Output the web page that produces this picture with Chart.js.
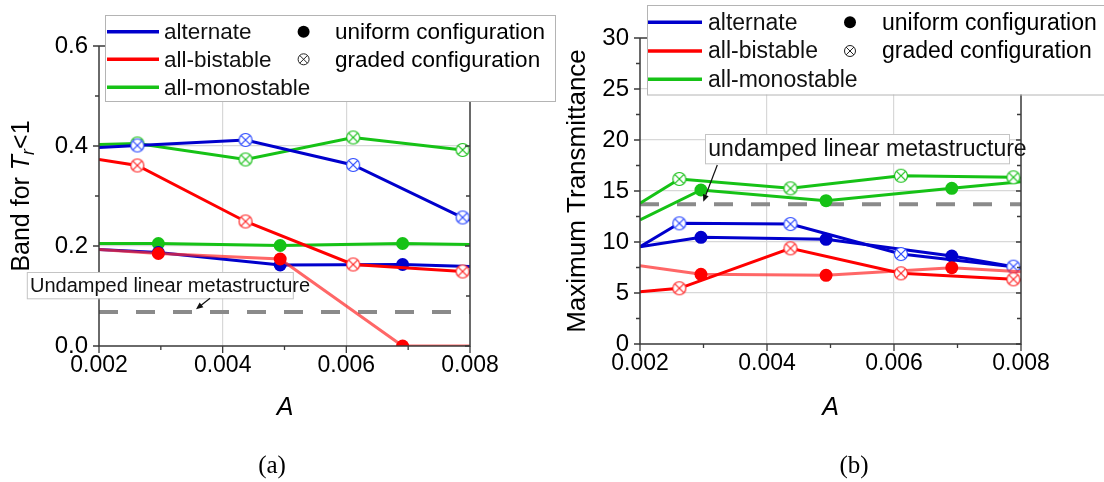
<!DOCTYPE html>
<html>
<head>
<meta charset="utf-8">
<script src="https://cdn.jsdelivr.net/npm/chart.js@4.4.1/dist/chart.umd.min.js"></script>
<style>
  html, body { margin: 0; padding: 0; background: #fff; }
  #wrap { position: relative; width: 1104px; height: 482px; overflow: hidden; background: #fff; }
  #wrap canvas { position: absolute; top: 0; }
  #cvA { left: 0; }
  #cvB { left: 560px; }
  .cap { position: absolute; font-family: 'Liberation Serif', 'Times New Roman', serif; font-size: 25px;
         line-height: normal; color: #000; transform: translateX(-50%); white-space: nowrap; }
</style>
</head>
<body>
<div id="wrap">
  <canvas id="cvA" width="560" height="482"></canvas>
  <canvas id="cvB" width="544" height="482"></canvas>
  <div class="cap" style="left:272px; top:451px;">(a)</div>
  <div class="cap" style="left:854px; top:451px;">(b)</div>
</div>
<script>
// ---- amplitudes A (first and last entries are the plot edges) ----
const ampGraded  = [0.002, 0.00262, 0.00437, 0.00611, 0.00788, 0.008];
const ampUniform = [0.002, 0.00296, 0.00493, 0.00691, 0.008];
const ampTicks   = [0.002, 0.004, 0.006, 0.008];

// ---- series and configuration names ----
const seriesNames = ['alternate', 'all-bistable', 'all-monostable'];
const configNames = ['uniform configuration', 'graded configuration'];

// ---- (a) band for Tr < 1 ----
const bandAltGraded    = [0.397, 0.401, 0.412, 0.362, 0.257, 0.252];
const bandBiGraded     = [0.373, 0.361, 0.249, 0.163, 0.149, 0.148];
const bandMonoGraded   = [0.403, 0.405, 0.373, 0.417, 0.392, 0.391];
const bandAltUniform   = [0.193, 0.187, 0.162, 0.163, 0.159];
const bandBiUniform    = [0.193, 0.185, 0.174, 0.0, 0.0];
const bandMonoUniform  = [0.205, 0.205, 0.201, 0.205, 0.203];
const bandUndamped     = 0.068;
const bandTicks        = [0, 0.2, 0.4, 0.6];

// ---- (b) maximum transmittance ----
const tmAltGraded   = [9.54, 11.83, 11.76, 8.82, 7.58, 7.45];
const tmBiGraded    = [5.13, 5.46, 9.38, 6.93, 6.34, 6.27];
const tmMonoGraded  = [13.8, 16.18, 15.26, 16.5, 16.34, 16.24];
const tmAltUniform  = [9.54, 10.46, 10.26, 8.63, 7.45];
const tmBiUniform   = [7.68, 6.83, 6.73, 7.48, 7.09];
const tmMonoUniform = [12.16, 15.1, 14.05, 15.26, 15.9];
const tmUndamped    = 13.7;
const tmTicks       = [0, 5, 10, 15, 20, 25, 30];

// ---- styling ----
const SANS = "'Liberation Sans', Arial, sans-serif";
const BLUE = '#0000cc', BLUE_MK = '#2a48ff';
const RED = '#ff0000', RED_LIGHT = 'rgba(255,45,45,0.72)', RED_MK = '#ff2424';
const GREEN = '#16c216', GREEN_MK = '#18c018';
const AXIS = '#3a3a3a', GRID = '#d8d8d8', DASH = '#8a8a8a';

function crossMark(color, r) {
  const c = document.createElement('canvas');
  const s = 16;
  c.width = c.height = s;
  const g = c.getContext('2d');
  const m = s / 2;
  g.fillStyle = '#fff';
  g.beginPath(); g.arc(m, m, r, 0, Math.PI * 2); g.fill();
  g.strokeStyle = color; g.lineWidth = 1.2; g.stroke();
  const d = r * 0.72;
  g.beginPath();
  g.moveTo(m - d, m - d); g.lineTo(m + d, m + d);
  g.moveTo(m + d, m - d); g.lineTo(m - d, m + d);
  g.stroke();
  return c;
}

const edgeRadius = (n) => Array.from({length: n}, (_, i) => (i === 0 || i === n - 1) ? 0 : 6.5);
const toPts = (xs, ys) => xs.map((x, i) => ({x, y: ys[i]}));

function gradedSet(label, ys, color, mk, order) {
  return { label, data: toPts(ampGraded, ys), borderColor: color, borderWidth: 3,
    pointStyle: crossMark(mk, 6.5), pointRadius: edgeRadius(ampGraded.length),
    pointHoverRadius: 0, order };
}
function uniformSet(label, ys, color, dot, order) {
  return { label, data: toPts(ampUniform, ys), borderColor: color, borderWidth: 3,
    pointStyle: 'circle', pointRadius: edgeRadius(ampUniform.length), pointBorderWidth: 0,
    pointBackgroundColor: dot, pointHoverRadius: 0, order };
}
function refSet(v) {
  return { label: 'undamped', data: [{x: 0.002, y: v}, {x: 0.008, y: v}], borderColor: DASH,
    borderWidth: 4, borderDash: [19, 18], pointRadius: 0, order: 10 };
}

// draws frame, tick marks, legend, note and axis titles
function decor(P) {
  return {
    id: 'decor',
    afterDatasetsDraw(chart) {
      const ctx = chart.ctx, a = chart.chartArea;
      const xs = chart.scales.x, ys = chart.scales.y;
      ctx.save();
      ctx.strokeStyle = AXIS; ctx.lineWidth = 1.5;
      ctx.beginPath();
      ctx.moveTo(a.left, a.top); ctx.lineTo(a.left, a.bottom); ctx.lineTo(a.right, a.bottom);
      ctx.lineTo(a.right, a.top); ctx.lineTo(a.left, a.top);
      ctx.stroke();
      ctx.lineWidth = 1.3;
      ctx.beginPath();
      const yt = P.yTicks;
      for (let i = 0; i < yt.length; i++) {
        const y = ys.getPixelForValue(yt[i]);
        ctx.moveTo(a.left - 6, y); ctx.lineTo(a.left, y);
        ctx.moveTo(a.right - 5, y); ctx.lineTo(a.right, y);
        if (i < yt.length - 1) {
          const ym = ys.getPixelForValue((yt[i] + yt[i + 1]) / 2);
          ctx.moveTo(a.left - 4, ym); ctx.lineTo(a.left, ym);
          ctx.moveTo(a.right - 4, ym); ctx.lineTo(a.right, ym);
        }
      }
      for (let i = 0; i < ampTicks.length; i++) {
        const x = xs.getPixelForValue(ampTicks[i]);
        ctx.moveTo(x, a.bottom); ctx.lineTo(x, a.bottom + 7);
        if (i < ampTicks.length - 1) {
          const xm = xs.getPixelForValue((ampTicks[i] + ampTicks[i + 1]) / 2);
          ctx.moveTo(xm, a.bottom); ctx.lineTo(xm, a.bottom + 4);
        }
      }
      ctx.stroke();
      ctx.restore();
    },
    afterDraw(chart) {
      const ctx = chart.ctx;
      drawLegend(ctx, P.legend);
      drawNote(ctx, P.note);
      ctx.save();
      ctx.fillStyle = '#000';
      ctx.textAlign = 'center'; ctx.textBaseline = 'alphabetic';
      ctx.font = 'italic 25px ' + SANS;
      ctx.fillText('A', P.xTitle.x, P.xTitle.y);
      ctx.restore();
      drawYTitle(ctx, P.yTitle);
    }
  };
}

function drawLegend(ctx, L) {
  const colors = [BLUE, RED, GREEN];
  ctx.save();
  ctx.fillStyle = '#fff';
  ctx.fillRect(L.x, L.y, L.w, L.h);
  ctx.strokeStyle = '#b4b4b4'; ctx.lineWidth = 1;
  ctx.strokeRect(L.x + 0.5, L.y + 0.5, L.w, L.h);
  ctx.font = L.font + 'px ' + SANS;
  ctx.textBaseline = 'middle'; ctx.textAlign = 'left';
  seriesNames.forEach((name, i) => {
    const y = L.y + L.rows[i];
    ctx.strokeStyle = colors[i]; ctx.lineWidth = 3.5;
    ctx.beginPath(); ctx.moveTo(L.x + L.line[0], y); ctx.lineTo(L.x + L.line[1], y); ctx.stroke();
    ctx.fillStyle = '#111';
    ctx.fillText(name, L.x + L.text, y + 1);
  });
  // configuration keys
  const mx = L.x + L.mark;
  let y = L.y + L.rows[0];
  ctx.fillStyle = '#000';
  ctx.beginPath(); ctx.arc(mx, y, 6, 0, Math.PI * 2); ctx.fill();
  ctx.fillText(configNames[0], L.x + L.text2, y + 1);
  y = L.y + L.rows[1];
  ctx.strokeStyle = '#222'; ctx.lineWidth = 1;
  ctx.beginPath(); ctx.arc(mx, y, 5.5, 0, Math.PI * 2); ctx.stroke();
  const d = 5.5 * 0.72;
  ctx.beginPath();
  ctx.moveTo(mx - d, y - d); ctx.lineTo(mx + d, y + d);
  ctx.moveTo(mx + d, y - d); ctx.lineTo(mx - d, y + d);
  ctx.stroke();
  ctx.fillText(configNames[1], L.x + L.text2, y + 1);
  ctx.restore();
}

function drawNote(ctx, N) {
  ctx.save();
  ctx.fillStyle = '#fff';
  ctx.fillRect(N.x, N.y, N.w, N.h);
  ctx.strokeStyle = '#c4c4c4'; ctx.lineWidth = 1;
  ctx.strokeRect(N.x + 0.5, N.y + 0.5, N.w, N.h);
  ctx.fillStyle = '#111';
  ctx.font = N.font + 'px ' + SANS;
  ctx.textBaseline = 'middle'; ctx.textAlign = 'left';
  ctx.fillText(N.text, N.tx, N.y + N.h / 2 + 1);
  // arrow
  const [x1, y1, x2, y2] = N.arrow;
  const ang = Math.atan2(y2 - y1, x2 - x1);
  ctx.strokeStyle = '#111'; ctx.lineWidth = 1.2;
  ctx.beginPath(); ctx.moveTo(x1, y1); ctx.lineTo(x2 - 5 * Math.cos(ang), y2 - 5 * Math.sin(ang)); ctx.stroke();
  ctx.fillStyle = '#111';
  ctx.beginPath();
  ctx.moveTo(x2, y2);
  ctx.lineTo(x2 - 7 * Math.cos(ang) + 3 * Math.sin(ang), y2 - 7 * Math.sin(ang) - 3 * Math.cos(ang));
  ctx.lineTo(x2 - 7 * Math.cos(ang) - 3 * Math.sin(ang), y2 - 7 * Math.sin(ang) + 3 * Math.cos(ang));
  ctx.closePath(); ctx.fill();
  ctx.restore();
}

function drawYTitle(ctx, T) {
  ctx.save();
  ctx.translate(T.x, T.y);
  ctx.rotate(-Math.PI / 2);
  ctx.fillStyle = '#000';
  ctx.textBaseline = 'alphabetic'; ctx.textAlign = 'left';
  const fontOf = (p) => (p.italic ? 'italic ' : '') + (p.sub ? Math.round(T.font * 0.7) : T.font) + 'px ' + SANS;
  let total = 0;
  T.parts.forEach(p => { ctx.font = fontOf(p); total += ctx.measureText(p.t).width; });
  let x = -total / 2;
  T.parts.forEach(p => {
    ctx.font = fontOf(p);
    ctx.fillText(p.t, x, p.sub ? T.font * 0.22 : 0);
    x += ctx.measureText(p.t).width;
  });
  ctx.restore();
}

function makeChart(id, P, datasets) {
  const fixedTicks = (vals) => (s) => { s.ticks = vals.map(v => ({value: v})); };
  const edgeGrid = (vals) => (c) => {
    const v = c.tick ? c.tick.value : null;
    return (v === vals[0] || v === vals[vals.length - 1]) ? 'rgba(0,0,0,0)' : GRID;
  };
  return new Chart(document.getElementById(id), {
    type: 'line',
    data: { datasets },
    options: {
      responsive: false, animation: false, devicePixelRatio: 1,
      layout: { autoPadding: false, padding: P.padding },
      plugins: { legend: { display: false }, tooltip: { enabled: false } },
      elements: { line: { tension: 0 } },
      scales: {
        x: {
          type: 'linear', min: 0.002, max: 0.008,
          afterBuildTicks: fixedTicks(ampTicks),
          afterFit: (s) => { s.height = P.xHeight; s.paddingLeft = 0; s.paddingRight = 0; },
          ticks: { callback: (v) => Number(v).toFixed(3), color: '#000', padding: 6,
                   font: { family: SANS, size: 23 }, maxRotation: 0, autoSkip: false },
          grid: { color: edgeGrid(ampTicks), lineWidth: 1.2, drawTicks: false },
          border: { display: false }
        },
        y: {
          type: 'linear', min: P.yTicks[0], max: P.yTicks[P.yTicks.length - 1],
          afterBuildTicks: fixedTicks(P.yTicks),
          afterFit: (s) => { s.width = P.yWidth; s.paddingTop = 0; s.paddingBottom = 0; },
          ticks: { callback: P.yFmt, color: '#000', padding: 11,
                   font: { family: SANS, size: 24 }, autoSkip: false },
          grid: { color: edgeGrid(P.yTicks), lineWidth: 1.2, drawTicks: false },
          border: { display: false }
        }
      }
    },
    plugins: [decor(P)]
  });
}

// ---- panel (a) ----
makeChart('cvA', {
  padding: { left: 0, top: 46, right: 90, bottom: 76 },
  yWidth: 99, xHeight: 60,
  yTicks: bandTicks, yFmt: (v) => Number(v).toFixed(1),
  legend: { x: 105, y: 15, w: 450, h: 86, rows: [16.7, 44.3, 72.3], line: [2, 54], text: 59,
            mark: 198.6, text2: 230, font: 22.5 },
  note: { x: 26.8, y: 272, w: 266, h: 26.3, font: 20, tx: 30,
          text: 'Undamped linear metastructure', arrow: [210, 298.3, 196, 309.3] },
  xTitle: { x: 285, y: 415 },
  yTitle: { x: 28.5, y: 196, font: 25,
            parts: [{t: 'Band for '}, {t: 'T', italic: true}, {t: 'r', italic: true, sub: true}, {t: '<1'}] }
}, [
  gradedSet('all-bistable graded', bandBiGraded, RED, RED_MK, 1),
  uniformSet('all-bistable uniform', bandBiUniform, RED_LIGHT, RED, 2),
  gradedSet('alternate graded', bandAltGraded, BLUE, BLUE_MK, 3),
  uniformSet('alternate uniform', bandAltUniform, BLUE, BLUE, 4),
  gradedSet('all-monostable graded', bandMonoGraded, GREEN, GREEN_MK, 5),
  uniformSet('all-monostable uniform', bandMonoUniform, GREEN, GREEN, 6),
  refSet(bandUndamped)
]);

// ---- panel (b) ----
makeChart('cvB', {
  padding: { left: 0, top: 38, right: 83, bottom: 78 },
  yWidth: 80, xHeight: 60,
  yTicks: tmTicks, yFmt: (v) => String(v),
  legend: { x: 87, y: 5, w: 470, h: 89.5, rows: [17.3, 46, 74.3], line: [1, 55], text: 61,
            mark: 203, text2: 235, font: 23 },
  note: { x: 145, y: 134, w: 304, h: 29.3, font: 23, tx: 148.3,
          text: 'undamped linear metastructure', arrow: [157.3, 165, 143.3, 201.7] },
  xTitle: { x: 270.5, y: 415 },
  yTitle: { x: 25, y: 191, font: 26, parts: [{t: 'Maximum Transmittance'}] }
}, [
  gradedSet('all-bistable graded', tmBiGraded, RED, RED_MK, 1),
  uniformSet('all-bistable uniform', tmBiUniform, RED_LIGHT, RED, 2),
  gradedSet('alternate graded', tmAltGraded, BLUE, BLUE_MK, 3),
  uniformSet('alternate uniform', tmAltUniform, BLUE, BLUE, 4),
  gradedSet('all-monostable graded', tmMonoGraded, GREEN, GREEN_MK, 5),
  uniformSet('all-monostable uniform', tmMonoUniform, GREEN, GREEN, 6),
  refSet(tmUndamped)
]);
</script>
</body>
</html>
